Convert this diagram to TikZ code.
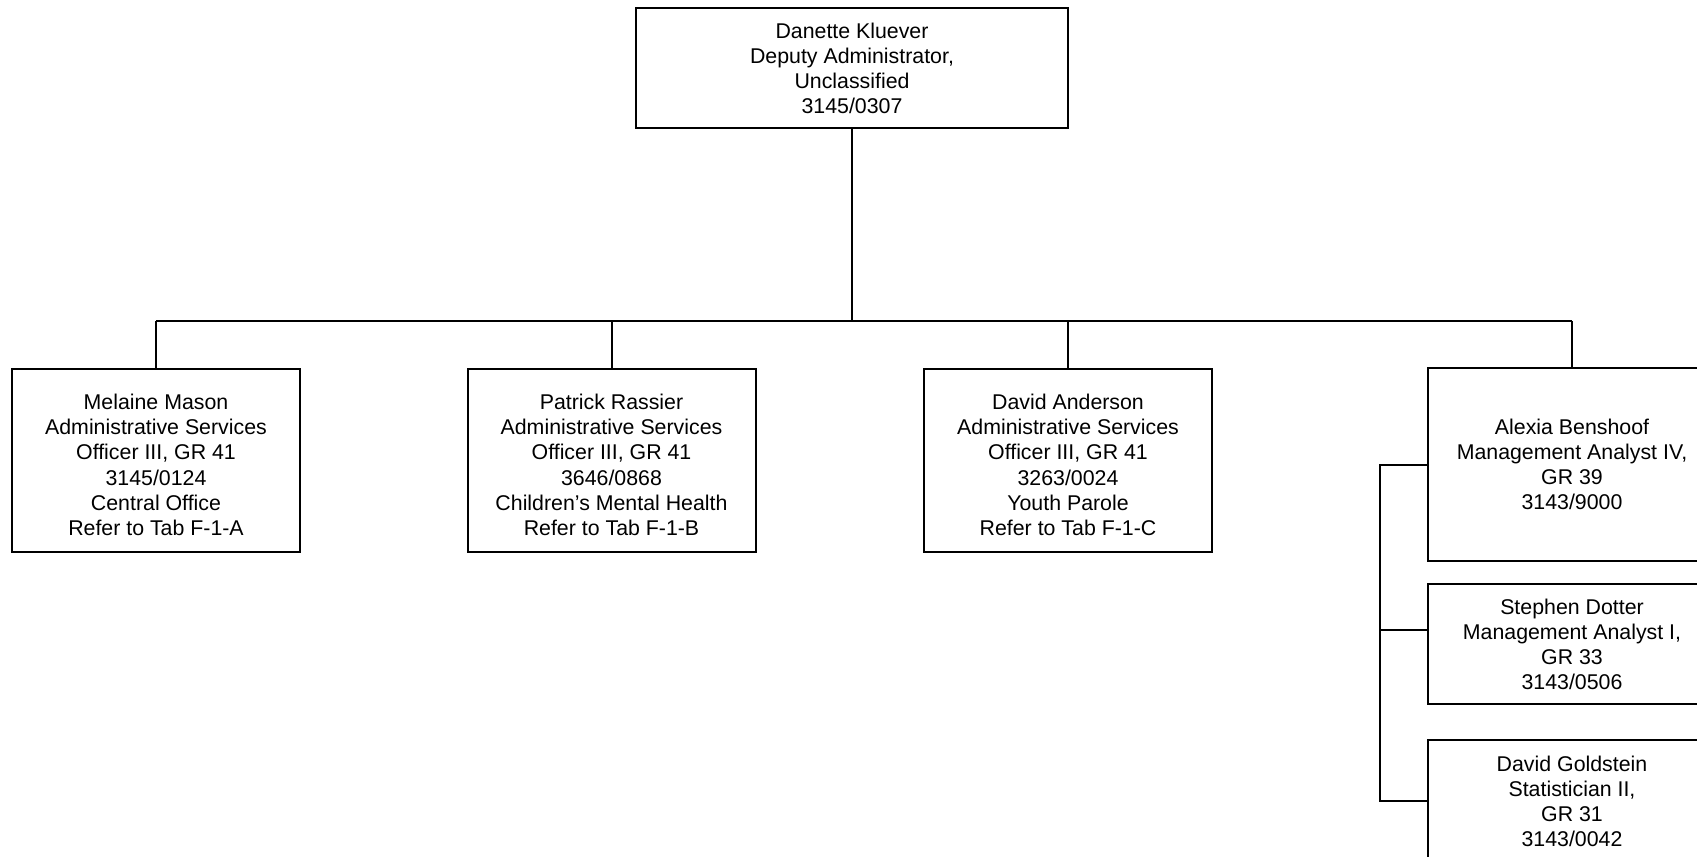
\documentclass[tikz,border=0pt]{standalone}
\usepackage{fontspec}
\setmainfont{Liberation Sans}
\begin{document}
\begin{tikzpicture}[x=0.75pt,y=-0.75pt,
  line width=1.5pt,
  orgbox/.style={draw=black, line width=1.5pt, rectangle, inner sep=0pt, align=center,
    font=\fontsize{16}{18.75}\selectfont, minimum width=216pt},
  orgtext/.style={inner sep=0pt, align=center},
  conn/.style={draw=black, line width=1.5pt}]
\useasboundingbox (0,0) rectangle (1697,857);
\clip (0,0) rectangle (1697,857);
\node[orgbox, minimum width=324pt, minimum height=90pt] (top) at (852,68)
  {Danette Kluever\\Deputy Administrator,\\Unclassified\\3145/0307};
\node[orgbox, minimum height=137.25pt] (m) at (156,460.5) {};
\node[orgtext, font=\fontsize{16}{19}\selectfont] (mt) at (156,465)
  {Melaine Mason\\Administrative Services\\Officer III, GR 41\\3145/0124\\Central Office\\Refer to Tab F-1-A};
\node[orgbox, minimum height=137.25pt] (p) at (611.5,460.5) {};
\node[orgtext, font=\fontsize{16}{19}\selectfont] (pt) at (611.5,465)
  {Patrick Rassier\\Administrative Services\\Officer III, GR 41\\3646/0868\\Children’s Mental Health\\Refer to Tab F-1-B};
\node[orgbox, minimum height=137.25pt] (d) at (1068,460.5) {};
\node[orgtext, font=\fontsize{16}{19}\selectfont] (dt) at (1068,465)
  {David Anderson\\Administrative Services\\Officer III, GR 41\\3263/0024\\Youth Parole\\Refer to Tab F-1-C};
\node[orgbox, minimum height=144.75pt] (a) at (1572,464.5)
  {Alexia Benshoof\\Management Analyst IV,\\GR 39\\3143/9000};
\node[orgbox, minimum height=90pt] (s) at (1572,644)
  {Stephen Dotter\\Management Analyst I,\\GR 33\\3143/0506};
\node[orgbox, minimum height=91.5pt] (g) at (1572,801)
  {David Goldstein\\Statistician II,\\GR 31\\3143/0042};
\coordinate (bus) at (852,321);
\coordinate (bx) at (1380,0);
\draw[conn] (top.south) -- (bus);
\draw[conn] (m.north |- bus) -- (a.north |- bus);
\foreach \n in {m,p,d,a} \draw[conn] (\n.north) -- (\n.north |- bus);
\draw[conn] (a.west) -- (a.west -| bx) -- (g.west -| bx) -- (g.west);
\draw[conn] ([yshift=10.5pt]s.west) -- ([yshift=10.5pt]s.west -| bx);
\end{tikzpicture}
\end{document}
